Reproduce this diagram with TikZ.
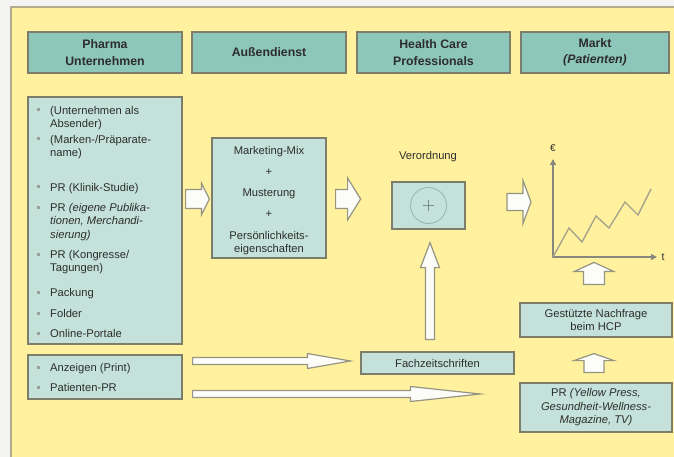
\documentclass[tikz,border=0pt]{standalone}
\usepackage{fontspec}
\setmainfont{Liberation Sans}
\usetikzlibrary{calc,arrows.meta}

\definecolor{paper}{RGB}{255,241,158}
\definecolor{margincol}{RGB}{244,244,242}
\definecolor{frameline}{RGB}{178,172,140}
\definecolor{headfill}{RGB}{141,198,186}
\definecolor{panelfill}{RGB}{196,226,218}
\definecolor{boxline}{RGB}{125,125,108}
\definecolor{arrowfill}{RGB}{252,252,248}
\definecolor{arrowline}{RGB}{150,148,130}
\definecolor{inkcol}{RGB}{45,45,45}
\definecolor{bulletcol}{RGB}{150,162,150}
\definecolor{axiscol}{RGB}{135,135,125}
\definecolor{zigcol}{RGB}{168,164,140}
\definecolor{ringcol}{RGB}{150,180,172}
\definecolor{pluscol}{RGB}{125,140,136}

\newcommand\txtsize{\fontsize{11.2}{13.5}\selectfont}
\newcommand\hdsize{\fontsize{12.3}{16.5}\selectfont\bfseries}

\tikzset{
  head/.style={draw=boxline, line width=1.2pt, fill=headfill, minimum height=41pt,
    inner sep=0pt, align=center, font=\hdsize, text=inkcol},
  panel/.style={draw=boxline, line width=1.2pt, fill=panelfill, inner sep=0pt,
    align=center, font=\txtsize, text=inkcol},
  itemtext/.style={inner sep=0pt, align=left, font=\txtsize, text=inkcol},
  label/.style={inner sep=0pt, font=\txtsize, text=inkcol, align=center},
  blockarrow/.style={draw=arrowline, line width=1.2pt, fill=arrowfill, line join=miter},
  axis/.style={draw=axiscol, line width=2pt,
    {Triangle[length=6pt,width=6pt]}-{Triangle[length=6pt,width=6pt]}},
  zig/.style={draw=zigcol, line width=1.4pt, line join=miter},
}

% horizontal block arrow: tail, tip, shaft half width, head half width, head length
\newcommand\hblock[5]{%
  \draw[blockarrow] let \p1=(#1), \p2=(#2) in
    (\x1,\y1+#3) -- (\x2-#5,\y1+#3) -- (\x2-#5,\y1+#4) -- (\x2,\y1)
    -- (\x2-#5,\y1-#4) -- (\x2-#5,\y1-#3) -- (\x1,\y1-#3) -- cycle;}
% vertical block arrow pointing up: tail, tip, shaft half width, head half width, head length
\newcommand\vblock[5]{%
  \draw[blockarrow] let \p1=(#1), \p2=(#2) in
    (\x1+#3,\y1) -- (\x1+#3,\y2-#5) -- (\x1+#4,\y2-#5) -- (\x1,\y2)
    -- (\x1-#4,\y2-#5) -- (\x1-#3,\y2-#5) -- (\x1-#3,\y1) -- cycle;}
% bulleted entry: name, centre of first line, text
\newcommand\listentry[3]{%
  \fill[bulletcol] (36.5,#2-1.5) rectangle (39.5,#2+1.5);
  \node[itemtext, anchor=north west] (#1) at (50,#2-5.45) {\strut#3};}

\begin{document}
\begin{tikzpicture}[x=1pt, y=-1pt]
  \useasboundingbox (0,0) rectangle (674,457);
  % sheet
  \fill[margincol] (0,0) rectangle (674,457);
  \fill[paper] (11,7) rectangle (674,457);
  \draw[frameline, line width=1.2pt] (11,457) -- (11,7) -- (674,7);

  % column headers
  \node[head, minimum width=154pt] (hPharma) at (105,52.5) {Pharma\\Unternehmen};
  \node[head, minimum width=154pt] (hAussen) at (269,52.5) {Außendienst};
  \node[head, minimum width=153pt] (hHcp)    at (433.5,52.5) {Health Care\\Professionals};
  \node[head, minimum width=148pt] (hMarkt)  at (595,52.5) {Markt\\\textit{(Patienten)}};

  % company instruments
  \node[panel, minimum width=154pt, minimum height=247pt] (list1) at (105,220.5) {};
  \listentry{i1}{110}{(Unternehmen als\\Absender)}
  \listentry{i2}{139}{(Marken-/Präparate-\\name)}
  \listentry{i3}{187}{PR (Klinik-Studie)}
  \listentry{i4}{207}{PR \textit{(eigene Publika-}\\\textit{tionen, Merchandi-}\\\textit{sierung)}}
  \listentry{i5}{254}{PR (Kongresse/\\Tagungen)}
  \listentry{i6}{292}{Packung}
  \listentry{i7}{313}{Folder}
  \listentry{i8}{333}{Online-Portale}

  \node[panel, minimum width=154pt, minimum height=44pt] (list2) at (105,377) {};
  \listentry{j1}{367}{Anzeigen (Print)}
  \listentry{j2}{387}{Patienten-PR}

  % field force
  \node[panel, minimum width=114pt, minimum height=120pt] (mix) at (269,198) {};
  \node[label] (mixtext) at (269,200.5)
    {Marketing-Mix\\[7.5pt]+\\[7.5pt]Musterung\\[7.5pt]+\\[8.5pt]Persönlichkeits-\\eigenschaften};

  % prescription
  \node[label] (verlabel) at (428,157) {Verordnung};
  \node[panel, minimum width=73pt, minimum height=47pt] (verbox) at (428.5,205.5) {};
  \draw[ringcol, line width=0.8pt] (verbox.center) circle (18pt);
  \draw[pluscol, line width=1.6pt] ($(verbox.center)+(-5.5,0)$) -- ($(verbox.center)+(5.5,0)$);
  \draw[pluscol, line width=1.6pt] ($(verbox.center)+(0,-5.5)$) -- ($(verbox.center)+(0,5.5)$);

  \node[panel, minimum width=153pt, minimum height=22pt] (fach) at (437.5,363) {Fachzeitschriften};

  % market side
  \node[panel, minimum width=152pt, minimum height=34pt] (gest) at (596,320)
    {Gestützte Nachfrage\\beim HCP};
  \node[panel, minimum width=152pt, minimum height=49pt] (prbox) at (596,407.5)
    {PR \textit{(Yellow Press,}\\\textit{Gesundheit-Wellness-}\\\textit{Magazine, TV)}};

  % sales chart
  \coordinate (origin) at (553,257);
  \coordinate (ytop) at (553,159);
  \coordinate (xend) at (657,257);
  \draw[axis] (ytop) -- (origin) -- (xend);
  \draw[zig] (origin) -- (569,228) -- (582,242) -- (596,216) -- (609,228)
    -- (625,202) -- (638,215) -- (651,189);
  \node[label, font=\fontsize{10}{12}\selectfont] (euro) at (553,148) {€};
  \node[label, font=\fontsize{10.5}{12}\selectfont] (tlab) at (663,257) {t};

  % block arrows
  \coordinate (a1s) at ($(list1.east |- mix.west)+(3,1)$);
  \coordinate (a1e) at ($(mix.west)+(-2,1)$);
  \hblock{a1s}{a1e}{9.5pt}{16pt}{8pt}

  \coordinate (a2s) at ($(mix.east)+(9,1)$);
  \coordinate (a2e) at ($(mix.east)+(34,1)$);
  \hblock{a2s}{a2e}{9.5pt}{21pt}{13pt}

  \coordinate (a3s) at (507,202);
  \coordinate (a3e) at (531,202);
  \hblock{a3s}{a3e}{8.5pt}{21.5pt}{8pt}

  \coordinate (a4s) at ($(fach.north)+(-7.5,-12)$);
  \coordinate (a4e) at ($(verbox.south)+(1.5,13)$);
  \vblock{a4s}{a4e}{4.5pt}{9.5pt}{25pt}

  \coordinate (a5s) at ($(list2.east)+(10,-16)$);
  \coordinate (a5e) at ($(fach.west)+(-10,-2)$);
  \hblock{a5s}{a5e}{3.5pt}{7.5pt}{43pt}

  \coordinate (a6s) at ($(list2.east)+(10,17)$);
  \coordinate (a6e) at ($(prbox.west)+(-39,-13.5)$);
  \hblock{a6s}{a6e}{3.5pt}{7.5pt}{70pt}

  \coordinate (a7s) at ($(gest.north)+(-2,-18)$);
  \coordinate (a7e) at ($(gest.north)+(-2,-40)$);
  \vblock{a7s}{a7e}{10.5pt}{19.5pt}{9pt}

  \coordinate (a8s) at ($(prbox.north)+(-2,-10)$);
  \coordinate (a8e) at ($(gest.south)+(-2,16)$);
  \vblock{a8s}{a8e}{10pt}{20pt}{7pt}
\end{tikzpicture}
\end{document}
